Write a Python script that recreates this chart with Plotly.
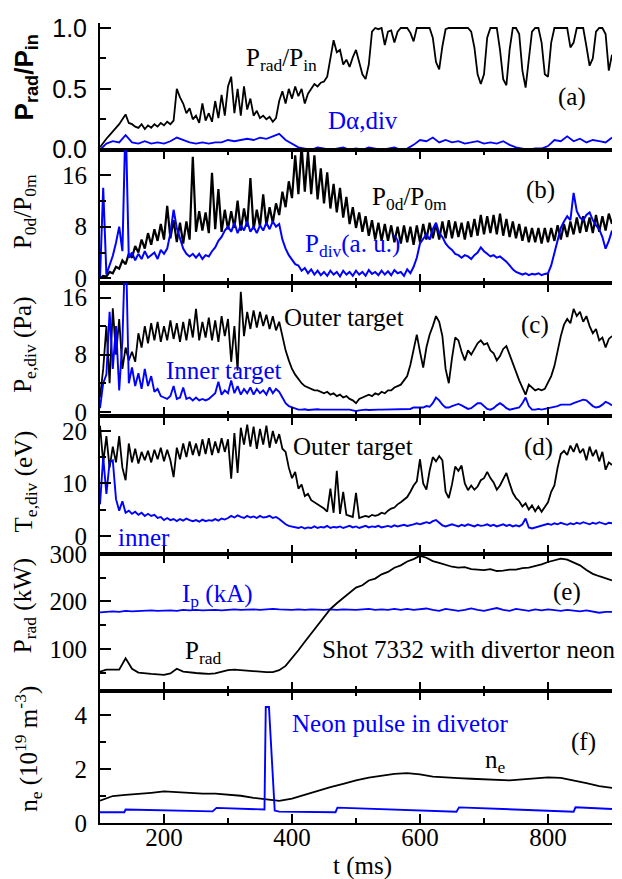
import plotly.graph_objects as go

# ---------------- data ----------------
T5 = list(range(100, 901, 5))
T10 = list(range(100, 901, 10))
T20 = list(range(100, 901, 20))

# (a) Prad/Pin (black), D-alpha div (blue)
PRAD_PIN = [
    0.02, 0.06, 0.09, 0.12, 0.15, 0.18, 0.21, 0.25, 0.29, 0.22,
    0.21, 0.19, 0.18, 0.21, 0.17, 0.20, 0.18, 0.21, 0.19, 0.22,
    0.20, 0.23, 0.21, 0.24, 0.50, 0.43, 0.38, 0.30, 0.34, 0.25,
    0.28, 0.22, 0.38, 0.24, 0.30, 0.23, 0.40, 0.26, 0.45, 0.28,
    0.52, 0.60, 0.30, 0.50, 0.28, 0.52, 0.33, 0.42, 0.28, 0.32,
    0.26, 0.28, 0.25, 0.27, 0.23, 0.26, 0.40, 0.48, 0.38, 0.50,
    0.42, 0.52, 0.44, 0.50, 0.38, 0.46, 0.50, 0.54, 0.52, 0.55,
    0.56, 0.60, 0.75, 0.90, 0.80, 0.82, 0.70, 0.74, 0.68, 0.76,
    0.82, 0.72, 0.62, 0.58, 0.70, 0.97, 1.00, 0.99, 1.00, 0.86,
    0.97, 0.98, 0.88, 0.97, 1.00, 1.00, 1.00, 0.96, 0.89, 1.00,
    1.00, 1.00, 1.00, 1.00, 0.92, 0.72, 0.66, 0.85, 0.99, 1.00,
    1.00, 1.00, 1.00, 1.00, 1.00, 1.00, 0.97, 0.84, 0.62, 0.54,
    0.62, 0.92, 1.00, 1.00, 1.00, 0.82, 0.58, 0.53, 0.82, 1.00,
    1.00, 0.95, 0.65, 0.51, 0.72, 0.97, 1.00, 1.00, 0.88, 0.62,
    0.60, 0.88, 1.00, 1.00, 1.00, 1.00, 1.00, 0.84, 0.88, 1.00,
    1.00, 1.00, 0.85, 0.69, 0.75, 0.97, 1.00, 1.00, 0.95, 0.65,
    0.78,
]
D_ALPHA = [
    0.00, 0.05, 0.07, 0.06, 0.12, 0.06, 0.05, 0.07, 0.05, 0.06,
    0.05, 0.07, 0.10, 0.08, 0.06, 0.05, 0.06, 0.05, 0.06, 0.06,
    0.08, 0.07, 0.08, 0.09, 0.08, 0.10, 0.09, 0.11, 0.13, 0.08,
    0.05, 0.02, 0.01, 0.00, 0.02, 0.01, 0.00, 0.01, 0.02, 0.00,
    0.01, 0.00, 0.02, 0.01, 0.00, 0.01, 0.02, 0.00, 0.01, 0.04,
    0.08, 0.07, 0.10, 0.06, 0.08, 0.06, 0.07, 0.05, 0.06, 0.07,
    0.05, 0.06, 0.05, 0.07, 0.04, 0.02, 0.01, 0.00, 0.01, 0.01,
    0.03, 0.08, 0.07, 0.11, 0.07, 0.09, 0.06, 0.08, 0.07, 0.06,
    0.10,
]

# (b) P0d/P0m (black), Pdiv (blue)
P0D_P0M = [
    0.0, 0.4, 0.3, 1.0, 0.8, 1.8, 1.5, 2.8, 2.2, 3.8,
    3.2, 5.0, 4.0, 6.0, 4.6, 7.0, 5.2, 7.6, 5.8, 8.4,
    6.0, 11.2, 6.2, 9.0, 5.6, 8.6, 5.4, 8.8, 6.0, 18.8,
    7.2, 10.4, 7.4, 10.2, 7.0, 16.3, 7.6, 13.8, 7.2, 10.6,
    7.6, 10.4, 7.8, 12.0, 7.4, 10.8, 8.0, 15.5, 7.6, 10.6,
    8.0, 13.0, 8.2, 11.0, 8.6, 11.6, 9.8, 13.4, 11.0, 15.0,
    12.4, 19.0, 13.0, 20.5, 13.4, 19.6, 13.0, 19.0, 12.2, 17.0,
    11.6, 16.4, 10.8, 14.6, 10.2, 14.0, 9.4, 12.6, 8.4, 11.0,
    7.8, 10.2, 7.2, 9.6, 6.6, 9.0, 6.0, 8.6, 5.8, 8.4,
    5.8, 8.2, 5.6, 8.0, 5.4, 8.2, 5.6, 8.0, 5.2, 8.2,
    5.6, 8.4, 6.0, 8.6, 6.2, 8.4, 6.0, 8.8, 6.2, 9.0,
    6.2, 8.8, 6.4, 8.6, 6.0, 8.8, 6.4, 9.2, 6.6, 9.8,
    6.8, 9.6, 7.0, 9.8, 6.8, 10.0, 6.6, 9.2, 6.4, 8.8,
    6.2, 8.4, 5.8, 8.0, 5.6, 7.8, 5.6, 7.8, 5.4, 7.8,
    5.6, 7.8, 5.8, 8.2, 6.0, 8.4, 6.4, 8.8, 6.8, 9.4,
    7.0, 9.6, 7.2, 9.4, 7.0, 9.8, 7.2, 9.6, 7.4, 10.0,
    8.4,
]
P_DIV = [
    0.0, 14.0, 0.6, 2.0, 3.5, 5.5, 8.0, 4.2, 25.0, 3.2,
    4.0, 2.8, 3.8, 3.0, 4.2, 3.2, 3.6, 4.0, 3.0, 4.4,
    3.8, 4.6, 7.0, 10.6, 7.8, 6.0, 4.6, 3.8, 3.4, 3.8,
    3.2, 3.8, 3.0, 3.6, 3.4, 4.2, 4.8, 5.8, 6.4, 7.4,
    8.0, 7.2, 8.6, 7.0, 8.2, 7.4, 8.8, 7.2, 8.0, 7.0,
    8.2, 7.4, 8.6, 7.6, 8.8, 8.0, 8.4, 6.0, 4.6, 3.6,
    2.8, 2.2, 2.0, 1.2, 1.6, 0.8, 1.4, 0.6, 1.2, 0.5,
    1.0, 0.4, 1.2, 0.6, 1.0, 0.3, 1.2, 0.6, 1.0, 0.4,
    1.2, 0.6, 1.0, 0.4, 1.3, 0.7, 1.0, 0.5, 1.2, 0.6,
    1.1, 0.5, 1.3, 0.8, 1.0, 0.4, 1.4, 0.8, 1.8, 3.2,
    5.4, 6.2, 6.8, 6.0, 7.6, 8.6, 7.0, 6.4, 5.4, 4.8,
    4.4, 3.8, 3.6, 3.2, 3.6, 3.4, 3.0, 3.6, 4.0, 4.8,
    4.2, 3.8, 3.4, 3.6, 3.2, 3.4, 3.0, 2.6, 2.0, 1.4,
    1.0, 0.8, 0.6, 0.8, 0.5, 0.7, 0.6, 0.8, 0.5, 0.7,
    0.8, 2.0, 4.0, 6.0, 7.8, 8.8, 9.6, 9.0, 13.2, 10.4,
    9.4, 9.0, 9.8, 10.2, 9.0, 8.2, 7.6, 6.4, 4.6, 5.8,
    7.4,
]

# (c) Pe,div outer (black) / inner (blue)
PE_OUTER = [
    2.0, 6.0, 12.0, 4.0, 14.5, 8.0, 13.0, 6.0, 9.0, 7.2,
    8.4, 7.0, 11.0, 9.0, 12.0, 9.6, 12.4, 10.0, 12.6, 9.8,
    12.0, 10.0, 12.8, 10.2, 12.4, 9.8, 12.6, 10.0, 13.0, 10.4,
    14.4, 10.0, 12.6, 10.4, 13.2, 10.0, 12.8, 9.8, 13.4, 10.6,
    13.0, 7.0, 12.0, 5.8, 16.8, 10.6, 14.0, 11.6, 14.2, 11.8,
    14.0, 12.0, 13.6, 11.6, 13.4, 11.4, 12.6, 10.6, 8.6, 7.2,
    6.0, 5.2, 4.6, 4.0, 3.6, 3.4, 3.2, 3.0, 3.0, 2.8,
    2.6, 2.8, 2.4, 2.6, 2.2, 2.4, 2.0, 2.2, 1.8, 1.6,
    1.2, 1.8, 2.0, 2.2, 2.4, 2.2, 2.6, 2.4, 2.8, 2.6,
    3.0, 3.0, 3.4, 3.6, 3.8, 4.4, 5.0, 6.6, 8.6, 10.8,
    8.4, 6.2, 9.0, 10.8, 12.0, 13.4, 12.6, 10.6, 6.0, 4.0,
    7.5, 10.4, 10.0, 8.4, 7.2, 8.6, 8.0, 8.8, 9.6, 10.0,
    9.4, 9.6, 8.6, 8.2, 7.2, 7.8, 8.8, 9.2, 8.0, 6.6,
    5.4, 4.4, 3.4, 2.4, 3.8, 3.4, 3.0, 3.2, 3.0, 3.2,
    4.0, 5.0, 6.4, 8.6, 10.6, 12.2, 13.0, 12.4, 14.4, 13.4,
    14.0, 12.6, 13.4, 12.0, 11.0, 11.6, 10.0, 10.4, 9.0, 10.2,
    10.6,
]
PE_INNER = [
    0.5, 4.0, 5.2, 14.0, 6.0, 12.0, 3.0, 10.0, 25.0, 4.0,
    6.2, 3.6, 5.4, 3.2, 6.0, 3.6, 5.0, 2.8, 3.2, 2.2,
    2.0, 1.8, 2.2, 3.6, 1.8, 2.0, 3.4, 1.8, 2.0, 1.6,
    2.0, 1.6, 1.8, 1.6, 1.8, 2.2, 2.6, 4.2, 2.4, 3.0,
    2.6, 4.4, 2.6, 3.6, 2.4, 3.2, 2.6, 3.4, 2.4, 3.2,
    2.6, 3.0, 2.4, 3.4, 2.6, 3.2, 2.8, 2.0, 1.2, 0.8,
    0.6, 0.4, 0.3, 0.3, 0.35, 0.25, 0.3, 0.3, 0.35, 0.3,
    0.3, 0.25, 0.3, 0.35, 0.3, 0.3, 0.25, 0.3, 0.3, 0.2,
    0.1, 0.2, 0.3, 0.3, 0.25, 0.3, 0.35, 0.3, 0.3, 0.3,
    0.3, 0.35, 0.3, 0.3, 0.35, 0.3, 0.35, 0.4, 0.6, 0.6,
    0.7, 0.6, 0.8, 0.7, 1.2, 2.0, 1.6, 1.0, 0.6, 0.6,
    0.8, 1.0, 1.1, 0.9, 0.6, 0.4, 0.5, 0.8, 1.2, 1.2,
    0.8, 0.4, 0.3, 0.5, 0.9, 1.2, 0.9, 0.5, 0.3, 0.4,
    0.4, 0.6, 1.2, 2.0, 0.8, 0.3, 0.3, 0.4, 0.3, 0.4,
    0.4, 0.5, 0.7, 0.8, 1.0, 1.0, 1.1, 1.0, 1.2, 1.4,
    1.5, 1.7, 1.6, 1.2, 0.8, 0.6, 0.7, 1.0, 1.4, 1.2,
    0.9,
]

# (d) Te,div outer (black) / inner (blue)
TE_OUTER = [
    21.0, 14.0, 19.0, 13.0, 17.0, 14.0, 19.0, 13.0, 10.6, 17.6,
    14.0, 16.6, 13.8, 16.0, 14.4, 16.2, 14.0, 16.4, 14.6, 16.8,
    14.2, 16.4, 14.4, 11.2, 16.8, 14.6, 17.6, 15.0, 18.0, 15.4,
    17.6, 15.2, 18.4, 15.6, 18.6, 15.4, 18.0, 15.8, 18.6, 16.0,
    18.4, 10.9, 19.6, 12.0, 20.6, 17.4, 21.2, 17.0, 20.8, 16.6,
    20.4, 17.4, 21.0, 16.8, 20.0, 17.6, 19.4, 16.6, 16.0, 13.0,
    11.0, 12.2, 9.0, 9.8, 7.6, 8.0, 6.8, 6.4, 6.0, 5.6,
    5.2, 4.6, 9.0, 4.4, 12.4, 4.2, 8.4, 4.0, 3.8, 3.6,
    8.2, 3.4, 3.6, 3.8, 3.6, 4.0, 3.8, 4.0, 4.4, 4.2,
    4.8, 5.2, 5.4, 6.0, 6.4, 7.0, 7.4, 8.4, 9.6, 10.4,
    14.6, 10.0, 8.8, 12.4, 15.0, 14.2, 15.2, 14.4, 8.4, 7.2,
    9.8, 13.2, 12.4, 13.4, 10.0, 8.7, 9.6, 8.8, 9.4, 10.6,
    11.0, 12.2, 11.0, 10.2, 8.8, 9.6, 10.8, 12.0, 10.0, 8.2,
    7.2, 6.6, 5.6, 6.2, 5.0, 5.8, 4.7, 5.6, 4.6, 5.4,
    6.4, 8.4, 9.6, 13.0, 15.6, 16.2, 15.4, 17.2, 16.0, 17.6,
    15.8, 16.6, 14.4, 17.0, 15.2, 16.4, 14.2, 16.0, 12.6, 14.0,
    13.5,
]
TE_INNER = [
    6.0, 15.0, 8.0, 14.0, 14.4, 7.0, 4.8, 6.6, 4.4, 4.8,
    4.2, 4.6, 4.0, 4.4, 3.8, 4.2, 3.8, 4.0, 3.4, 3.6,
    3.0, 3.4, 3.0, 3.2, 2.8, 3.2, 2.9, 3.3, 3.0, 2.8,
    3.0, 2.7, 3.1, 2.8, 3.0, 2.9, 3.2, 2.9, 3.3, 3.1,
    3.4, 3.8, 3.5, 3.9, 3.6, 3.4, 3.8, 3.5, 3.7, 3.4,
    3.8, 3.5, 3.6, 3.8, 3.4, 3.6, 3.2, 2.6, 2.2, 1.9,
    1.8, 1.6, 1.5, 1.7, 1.4, 1.6, 1.5, 1.8, 1.5, 1.7,
    1.6, 1.9, 1.5, 1.7, 1.6, 1.8, 1.5, 1.7, 1.9, 1.6,
    1.8, 1.5, 1.7, 1.9, 1.6, 1.8, 1.7, 1.9, 1.6, 1.8,
    1.9, 1.7, 2.0, 1.8, 1.9, 2.1, 1.9, 2.0, 2.2, 2.4,
    2.2, 2.4, 2.6, 2.4, 2.8, 3.0, 2.4, 2.0, 1.8, 2.0,
    2.2, 2.0, 1.8, 2.1, 1.9, 2.2, 2.0, 1.8, 2.1, 1.9,
    2.0, 2.2, 1.9, 2.1, 1.8, 2.0, 2.2, 1.9, 2.1, 1.8,
    2.0, 1.8, 2.2, 3.3, 1.6, 1.4, 1.6, 1.8, 2.0, 2.2,
    2.3, 2.1, 2.4, 2.2, 2.5, 2.3, 2.1, 2.4, 2.2, 2.5,
    2.3, 2.6, 2.4, 2.2, 2.5, 2.3, 2.6, 2.4, 2.2, 2.5,
    2.4,
]

# (e) Prad kW (black), Ip kA (blue)
PRAD_KW = [
    52, 56, 56, 56, 80, 58, 50, 48, 47, 46,
    45, 48, 58, 52, 50, 49, 48, 47, 48, 52,
    55, 56, 55, 53, 52, 52, 51, 51, 55, 64,
    80, 97, 115, 132, 150, 166, 184, 196, 207, 217,
    229, 234, 244, 248, 257, 262, 271, 276, 284, 289,
    296, 292, 285, 281, 277, 273, 271, 272, 268, 267,
    266, 268, 264, 265, 267, 267, 270, 271, 274, 278,
    283, 286, 290, 288, 282, 276, 266, 258, 253, 248,
    244,
]
IP_KA = [
    177, 178, 179, 178, 180, 179, 180, 180, 181, 180,
    181, 181, 180, 182, 181, 182, 181, 182, 182, 181,
    182, 183, 182, 183, 183, 182, 183, 184, 183, 182,
    182, 183, 182, 183, 182, 182, 183, 182, 183, 182,
    182, 183, 184, 182, 183, 182, 184, 182, 184, 182,
    183, 185, 182, 180, 184, 182, 180, 182, 185, 182,
    180, 183, 186, 182, 180, 184, 182, 180, 183, 181,
    183, 181, 180, 182, 181, 179, 181, 178, 176, 178,
    178,
]

# (f) ne (black), neon pulse (blue)
NE = [
    0.83, 1.00, 1.04, 1.07, 1.12, 1.17, 1.14, 1.10, 1.09, 1.09,
    1.06, 1.01, 0.93, 0.87, 0.82, 0.90, 1.04, 1.20, 1.33, 1.45,
    1.58, 1.68, 1.75, 1.82, 1.85, 1.80, 1.72, 1.68, 1.66, 1.64,
    1.62, 1.61, 1.58, 1.62, 1.66, 1.69, 1.67, 1.58, 1.48, 1.37,
    1.30,
]
NEON_T = [100, 138, 140, 276, 282, 300, 357, 359, 364, 373, 380,
          468, 471, 657, 661, 840, 843, 900]
NEON_V = [0.40, 0.40, 0.50, 0.43, 0.56, 0.54, 0.50, 4.30, 4.30, 0.46, 0.42,
          0.40, 0.57, 0.42, 0.58, 0.42, 0.58, 0.52]

# ---------------- styling ----------------
BLACK = "#000000"
BLUE = "#0000ff"
SERIF = "Liberation Serif, Times New Roman, serif"
SANS = "Liberation Sans, Arial, sans-serif"
FS = 25

PL, PR, PT, PB = 100, 612, 15, 823   # plot area in pixels
W, H = 622, 879


def xp(px):
    return (px - PL) / (PR - PL)


def yp(py):
    return (PB - py) / (PB - PT)


bounds = [15, 143.5, 277.5, 412, 551, 690, 823]
domains = [[yp(bounds[i + 1]), yp(bounds[i])] for i in range(6)]
domains[0][1] = 1.0
domains[5][0] = 0.0

fig = go.Figure()


def add(x, y, color, idx, width):
    fig.add_trace(go.Scatter(
        x=x, y=y, mode="lines",
        line=dict(color=color, width=width),
        xaxis="x" if idx == 1 else f"x{idx}",
        yaxis="y" if idx == 1 else f"y{idx}",
        showlegend=False, hoverinfo="skip"))


add(T5, PRAD_PIN, BLACK, 1, 1.8)
add(T10, D_ALPHA, BLUE, 1, 1.8)
add(T5, P0D_P0M, BLACK, 2, 2.2)
add(T5, P_DIV, BLUE, 2, 2.0)
add(T5, PE_OUTER, BLACK, 3, 1.8)
add(T5, PE_INNER, BLUE, 3, 1.9)
add(T5, TE_OUTER, BLACK, 4, 1.8)
add(T5, TE_INNER, BLUE, 4, 1.9)
add(T10, IP_KA, BLUE, 5, 1.8)
add(T10, PRAD_KW, BLACK, 5, 1.8)
add(T20, NE, BLACK, 6, 1.8)
add(NEON_T, NEON_V, BLUE, 6, 1.9)

yranges = [[-0.004, 1.041], [-0.69, 19.8], [-0.6, 18.05],
           [-3.4, 22.83], [10.4, 300.5], [0, 4.88]]
ymajor = [[0, 0.5, 1.0], [0, 8, 16], [0, 8, 16], [0, 10, 20],
          [100, 200, 300], [0, 2, 4]]
ytext = [["0.0", "0.5", "1.0"], ["0", "8", "16"], ["0", "8", "16"],
         ["0", "10", "20"], ["100", "200", "300"], ["0", "2", "4"]]
yminor = [[0.25, 0.75], [4, 12], [4, 12], [5, 15], [50, 150, 250], [1, 3]]

layout = dict(
    width=W, height=H,
    margin=dict(l=PL, r=W - PR, t=PT, b=H - PB, pad=0),
    paper_bgcolor="white", plot_bgcolor="white",
    showlegend=False,
)

for i in range(6):
    idx = i + 1
    xk = "xaxis" if idx == 1 else f"xaxis{idx}"
    yk = "yaxis" if idx == 1 else f"yaxis{idx}"
    ya = "y" if idx == 1 else f"y{idx}"
    xa = "x" if idx == 1 else f"x{idx}"
    layout[xk] = dict(
        domain=[0, 1], anchor=ya, range=[100, 900],
        showline=True, linecolor=BLACK, linewidth=2,
        mirror=False if idx == 1 else "ticks",
        ticks="" if idx == 1 else "inside",
        ticklen=9, tickwidth=1.5, tickcolor=BLACK,
        tick0=0, dtick=200,
        minor=dict(ticks="" if idx == 1 else "inside", ticklen=5,
                   tickwidth=1.5, tickcolor=BLACK, tick0=0, dtick=100,
                   showgrid=False),
        showgrid=False, zeroline=False,
        showticklabels=(idx == 6),
        tickfont=dict(family=SERIF, size=FS, color=BLACK),
        ticklabelstandoff=-9,
    )
    if idx != 1:
        layout[xk]["matches"] = "x"
    layout[yk] = dict(
        domain=domains[i], anchor=xa, range=yranges[i],
        showline=True, linecolor=BLACK, linewidth=2, mirror=False,
        ticks="inside", ticklen=11, tickwidth=1.5, tickcolor=BLACK,
        tickmode="array", tickvals=ymajor[i], ticktext=ytext[i],
        minor=dict(ticks="inside", ticklen=6, tickwidth=1.5,
                   tickcolor=BLACK, tickvals=yminor[i], showgrid=False),
        showgrid=False, zeroline=False,
        tickfont=dict(family=SANS if idx == 1 else SERIF, size=FS,
                      color=BLACK),
        ticklabelstandoff=6,
    )

fig.update_layout(**layout)

annotations = []


def note(text, px, py, color=BLACK, size=FS, family=SERIF, xanchor="center",
         angle=0):
    annotations.append(dict(
        text=text, x=xp(px), y=yp(py), xref="paper", yref="paper",
        xanchor=xanchor, yanchor="middle", showarrow=False,
        textangle=angle, font=dict(family=family, size=size, color=color)))


# in-panel labels
note("P<sub>rad</sub>/P<sub>in</sub>", 281, 52)
note("(a)", 572, 90)
note("D\u03b1,div", 363, 113, BLUE)
note("(b)", 540, 184)
note("P<sub>0d</sub>/P<sub>0m</sub>", 409, 192)
note("P<sub>div</sub>(a. u.)", 352, 240, BLUE)
note("Outer target", 344, 312)
note("(c)", 535, 320)
note("Inner target", 224, 366, BLUE)
note("Outer target", 353, 443)
note("(d)", 538, 443)
note("inner", 144, 535, BLUE)
note("I<sub>p</sub> (kA)", 217, 593, BLUE)
note("(e)", 567, 590)
note("P<sub>rad</sub>", 203, 651)
note("Shot 7332 with divertor neon", 320, 648, xanchor="left")
note("Neon pulse in divetor", 400, 723, BLUE)
note("(f)", 583, 741)
note("n<sub>e</sub>", 495, 761)
note("t (ms)", 362, 866)

# y-axis titles
note("<b>P<sub>rad</sub>/P<sub>in</sub></b>", 25, 70, family=SANS, size=26,
     angle=-90)
note("P<sub>0d</sub>/P<sub>0m</sub>", 24, 206, angle=-90)
note("P<sub>e,div</sub> (Pa)", 25, 340, angle=-90)
note("T<sub>e,div</sub> (eV)", 25, 478, angle=-90)
note("P<sub>rad</sub> (kW)", 24, 604, angle=-90)
note("n<sub>e</sub> (10<sup>19</sup> m<sup>-3</sup>)", 28, 748, angle=-90)

fig.update_layout(annotations=annotations)

fig.write_html("out.html")
